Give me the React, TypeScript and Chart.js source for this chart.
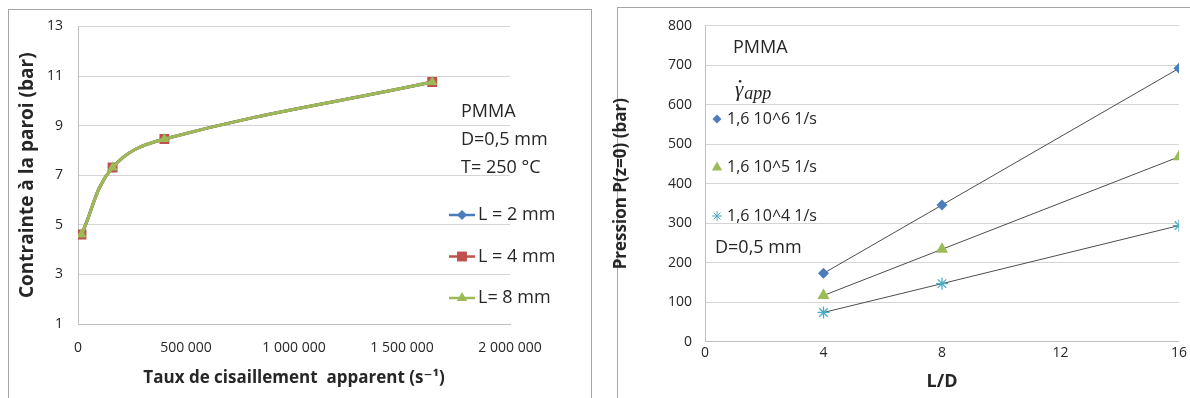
import React, { useEffect, useRef } from 'react';
import { Chart, registerables } from 'chart.js';

Chart.register(...registerables);

// ---------- Left chart data ----------
const shearRates = [16000, 160000, 400000, 1640000];
const stressL2 = [4.61, 7.31, 8.46, 10.76];
const stressL4 = [4.61, 7.31, 8.46, 10.76];
const stressL8 = [4.61, 7.31, 8.46, 10.76];
const leftSeriesLabels = ['L = 2 mm', 'L = 4 mm', 'L= 8 mm'];
const leftNotes = ['PMMA', 'D=0,5 mm', 'T= 250 °C'];
const leftXTicks = [0, 500000, 1000000, 1500000, 2000000];
const leftYTicks = [1, 3, 5, 7, 9, 11, 13];

// ---------- Right chart data ----------
const ldRatios = [4, 8, 16];
const pressure16e6 = [173, 346, 692];
const pressure16e5 = [117, 234, 468];
const pressure16e4 = [74, 147, 294];
const rightSeriesLabels = ['1,6 10^6 1/s', '1,6 10^5 1/s', '1,6 10^4 1/s'];
const rightNotes = ['PMMA', 'D=0,5 mm'];
const rightXTicks = [0, 4, 8, 12, 16];
const rightYTicks = [0, 100, 200, 300, 400, 500, 600, 700, 800];

const BLUE = '#4a7ebb';
const RED = '#c0504d';
const GREEN = '#9bbb59';
const CYAN = '#4bacc6';
const TEXT = '#262626';
const GRID = '#d4d4d4';
const FONT = '"Open Sans", "DejaVu Sans", sans-serif';

const fmtThousands = (v: number) => String(v).replace(/\B(?=(\d{3})+(?!\d))/g, ' ');

function drawMarker(ctx: CanvasRenderingContext2D, style: string, x: number, y: number, r: number, fill: string) {
  ctx.save();
  ctx.fillStyle = fill;
  ctx.strokeStyle = fill;
  ctx.lineWidth = 1;
  ctx.beginPath();
  if (style === 'rectRot') {
    ctx.moveTo(x, y - r);
    ctx.lineTo(x + r, y);
    ctx.lineTo(x, y + r);
    ctx.lineTo(x - r, y);
    ctx.closePath();
    ctx.fill();
  } else if (style === 'rect') {
    const s = r * Math.SQRT1_2;
    ctx.rect(x - s, y - s, 2 * s, 2 * s);
    ctx.fill();
  } else if (style === 'triangle') {
    ctx.moveTo(x, y - r);
    ctx.lineTo(x + r * 0.866, y + r * 0.5);
    ctx.lineTo(x - r * 0.866, y + r * 0.5);
    ctx.closePath();
    ctx.fill();
  } else if (style === 'star') {
    for (let k = 0; k < 4; k++) {
      const a = (k * Math.PI) / 4;
      ctx.moveTo(x + Math.sin(a) * r, y - Math.cos(a) * r);
      ctx.lineTo(x - Math.sin(a) * r, y + Math.cos(a) * r);
    }
    ctx.stroke();
  }
  ctx.restore();
}

const leftAnnotations = {
  id: 'leftAnnotations',
  afterDraw(chart: any) {
    const { ctx, chartArea } = chart;
    ctx.save();
    ctx.fillStyle = TEXT;
    ctx.font = `18px ${FONT}`;
    ctx.textBaseline = 'middle';
    ctx.textAlign = 'left';
    const nx = chartArea.right - 49;
    leftNotes.forEach((t, i) => ctx.fillText(t, nx, chartArea.top + 85 + i * 28.2));
    chart.data.datasets.forEach((ds: any, i: number) => {
      const y = chartArea.top + 188.5 + i * 41.5;
      const lx = chartArea.right - 61;
      ctx.strokeStyle = ds.borderColor;
      ctx.lineWidth = 2.5;
      ctx.beginPath();
      ctx.moveTo(lx, y);
      ctx.lineTo(lx + 26, y);
      ctx.stroke();
      drawMarker(ctx, ds.pointStyle, lx + 13, y, ds.pointRadius, ds.pointBackgroundColor);
      ctx.fillStyle = TEXT;
      ctx.fillText(ds.label, lx + 29, y);
    });
    ctx.restore();
  },
};

const rightAnnotations = {
  id: 'rightAnnotations',
  afterDraw(chart: any) {
    const { ctx, chartArea } = chart;
    const L = chartArea.left;
    const T = chartArea.top;
    ctx.save();
    ctx.fillStyle = TEXT;
    ctx.textBaseline = 'middle';
    ctx.textAlign = 'left';
    ctx.font = `18px ${FONT}`;
    ctx.fillText(rightNotes[0], L + 28, T + 22.3);
    // gamma with dot, subscript "app"
    ctx.font = 'italic 21px "Liberation Serif", "DejaVu Serif", serif';
    ctx.textBaseline = 'alphabetic';
    const gx = L + 30;
    const gy = T + 70;
    ctx.fillText('\u03b3', gx, gy);
    const gw = ctx.measureText('\u03b3').width;
    ctx.beginPath();
    ctx.arc(gx + gw * 0.62, gy - 14.5, 1.3, 0, Math.PI * 2);
    ctx.fill();
    ctx.font = 'italic 18px "Liberation Serif", "DejaVu Serif", serif';
    ctx.fillText('app', gx + gw + 1, gy + 3);
    ctx.textBaseline = 'middle';
    chart.data.datasets.forEach((ds: any, i: number) => {
      const y = T + 93.3 + i * 48.5;
      drawMarker(ctx, ds.pointStyle, L + 12, y, ds.pointStyle === 'star' ? 5 : ds.pointStyle === 'triangle' ? 6 : 4.5, ds.pointBackgroundColor);
      ctx.fillStyle = TEXT;
      ctx.font = `16px ${FONT}`;
      ctx.fillText(ds.label, L + 22, y);
    });
    ctx.font = `18px ${FONT}`;
    ctx.fillText(rightNotes[1], L + 10, T + 222.3);
    ctx.restore();
  },
};

function LeftChart() {
  const ref = useRef<HTMLCanvasElement>(null);
  useEffect(() => {
    const mk = (label: string, data: number[], color: string, style: string, radius: number, order: number) => ({
      label,
      data: shearRates.map((x, i) => ({ x, y: data[i] })),
      borderColor: color,
      backgroundColor: color,
      pointBackgroundColor: color,
      pointBorderColor: color,
      pointBorderWidth: 0,
      pointStyle: style,
      pointRadius: radius,
      borderWidth: 3,
      tension: 0.4,
      order,
    });
    const chart = new Chart(ref.current!, {
      type: 'line',
      data: {
        datasets: [
          mk(leftSeriesLabels[0], stressL2, BLUE, 'rectRot', 5, 3),
          mk(leftSeriesLabels[1], stressL4, RED, 'rect', 7, 2),
          mk(leftSeriesLabels[2], stressL8, GREEN, 'triangle', 6, 1),
        ] as any,
      },
      options: {
        responsive: false,
        animation: false,
        layout: { padding: { left: 0, top: 26.5, right: 90, bottom: 0 } },
        plugins: { legend: { display: false }, tooltip: { enabled: false } },
        scales: {
          x: {
            type: 'linear',
            min: 0,
            max: 2000000,
            afterBuildTicks: (s: any) => { s.ticks = leftXTicks.map((v) => ({ value: v })); },
            afterFit: (s: any) => { s.height = 74; },
            grid: { display: false, drawTicks: false },
            border: { display: true, color: '#bfbfbf', width: 1 },
            ticks: { padding: 16, color: TEXT, font: { family: FONT, size: 14 }, maxRotation: 0, callback: (v: any) => fmtThousands(Number(v)) },
            title: { display: true, text: 'Taux de cisaillement  apparent (s\u207b\u00b9)', color: TEXT, font: { family: FONT, size: 17, weight: 'bold' }, padding: { top: 0, bottom: 10 } },
          },
          y: {
            type: 'linear',
            min: 1,
            max: 13,
            afterBuildTicks: (s: any) => { s.ticks = leftYTicks.map((v) => ({ value: v })); },
            afterFit: (s: any) => { s.width = 78; },
            grid: { color: GRID, drawTicks: false },
            border: { display: true, color: '#bfbfbf', width: 1 },
            ticks: { padding: 15, color: TEXT, font: { family: FONT, size: 14 } },
            title: { display: true, text: 'Contrainte \u00e0 la paroi (bar)', color: TEXT, font: { family: FONT, size: 19, weight: 'bold' }, padding: { top: 16, bottom: 0 } },
          },
        },
      } as any,
      plugins: [leftAnnotations],
    });
    return () => chart.destroy();
  }, []);
  return <canvas ref={ref} width={600} height={398} style={{ position: 'absolute', left: 0, top: 0 }} />;
}

function RightChart() {
  const ref = useRef<HTMLCanvasElement>(null);
  useEffect(() => {
    const mk = (label: string, data: number[], color: string, style: string, radius: number) => ({
      label,
      data: ldRatios.map((x, i) => ({ x, y: data[i] })),
      borderColor: '#4d4d4d',
      borderWidth: 1,
      pointBackgroundColor: color,
      pointBorderColor: color,
      pointBorderWidth: style === 'star' ? 1.3 : 0,
      pointStyle: style,
      pointRadius: radius,
      tension: 0,
    });
    const chart = new Chart(ref.current!, {
      type: 'line',
      data: {
        datasets: [
          mk(rightSeriesLabels[0], pressure16e6, BLUE, 'rectRot', 5.5),
          mk(rightSeriesLabels[1], pressure16e5, GREEN, 'triangle', 7),
          mk(rightSeriesLabels[2], pressure16e4, CYAN, 'star', 6),
        ] as any,
      },
      options: {
        responsive: false,
        animation: false,
        layout: { padding: { left: 0, top: 25.7, right: 11, bottom: 0 } },
        plugins: { legend: { display: false }, tooltip: { enabled: false } },
        scales: {
          x: {
            type: 'linear',
            min: 0,
            max: 16,
            afterBuildTicks: (s: any) => { s.ticks = rightXTicks.map((v) => ({ value: v })); },
            afterFit: (s: any) => { s.height = 56.3; },
            grid: { display: false, drawTicks: false },
            border: { display: true, color: '#bfbfbf', width: 1 },
            ticks: { padding: 3, color: TEXT, font: { family: FONT, size: 14 }, maxRotation: 0 },
            title: { display: true, text: 'L/D', color: TEXT, font: { family: FONT, size: 18, weight: 'bold' }, padding: { top: 0, bottom: 5.5 } },
          },
          y: {
            type: 'linear',
            min: 0,
            max: 800,
            afterBuildTicks: (s: any) => { s.ticks = rightYTicks.map((v) => ({ value: v })); },
            afterFit: (s: any) => { s.width = 105; },
            grid: { color: GRID, drawTicks: false },
            border: { display: true, color: '#bfbfbf', width: 1 },
            ticks: { padding: 13, color: TEXT, font: { family: FONT, size: 14 } },
            title: { display: true, text: 'Pression P(z=0) (bar)', color: TEXT, font: { family: FONT, size: 17, weight: 'bold' }, padding: { top: 11, bottom: 0 } },
          },
        },
      } as any,
      plugins: [rightAnnotations],
    });
    return () => chart.destroy();
  }, []);
  return <canvas ref={ref} width={590} height={398} style={{ position: 'absolute', left: 600, top: 0 }} />;
}

export default function App() {
  return (
    <div style={{ position: 'fixed', left: 0, top: 0, width: 1190, height: 398, background: '#fff', overflow: 'hidden' }}>
      <div style={{ position: 'absolute', left: 8, top: 9, width: 584, height: 420, border: '1px solid #a6a6a6', boxSizing: 'border-box' }} />
      <div style={{ position: 'absolute', left: 617, top: 7, width: 620, height: 420, border: '1px solid #a6a6a6', boxSizing: 'border-box' }} />
      <LeftChart />
      <RightChart />
    </div>
  );
}
